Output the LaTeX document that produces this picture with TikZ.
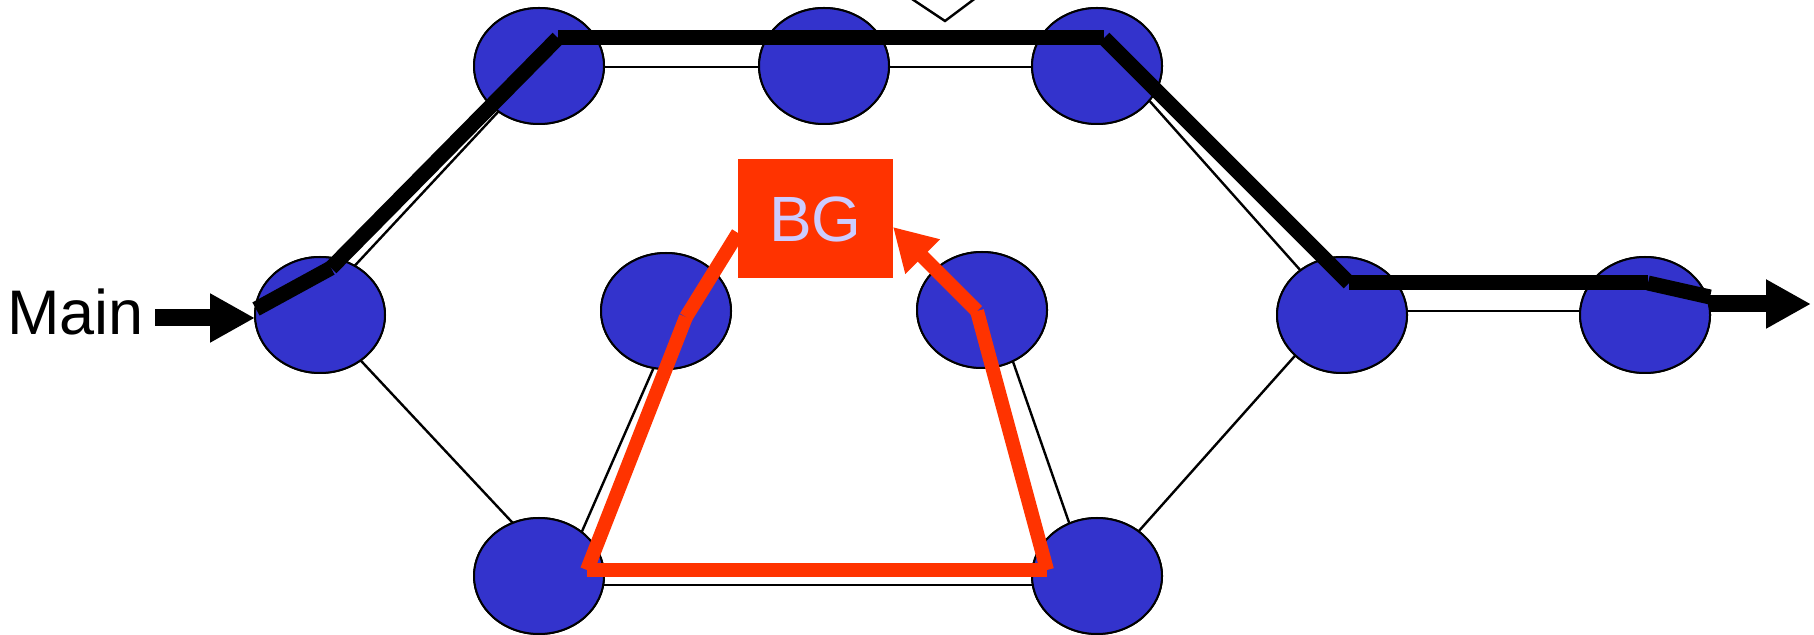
\documentclass[tikz,border=0pt]{standalone}
\usepackage{fontspec}
\newfontfamily\arial{Liberation Sans}
\usetikzlibrary{shapes.geometric,arrows.meta,calc}
\definecolor{nodeblue}{HTML}{3333CC}
\definecolor{bgred}{HTML}{FF3300}
\definecolor{bgtext}{HTML}{CCCCFF}
\tikzset{
  router/.style={ellipse, draw=black, line width=1pt, fill=nodeblue,
    minimum width=65pt, minimum height=58pt, inner sep=0pt},
  link/.style={draw=black, line width=1.2pt},
  route/.style={draw=black, line width=7.5pt, line cap=butt},
  backup/.style={draw=bgred, line width=7pt, line cap=butt},
  bigarrow/.style={draw=black, line width=8.5pt,
    -{Triangle[length=22.5pt,width=23pt]}},
}
\begin{document}
\begin{tikzpicture}[x=0.5pt,y=-0.5pt]
\useasboundingbox (0,0) rectangle (1814,635);
\clip (0,0) rectangle (1814,635);

% partly visible outline at the top edge
\draw[link] (900,-9) -- (945,21) -- (985,-9);

% network nodes
\path (320,315)  node[router] (n1) {}
      (539,66)   node[router] (n2) {}
      (824,66)   node[router] (n3) {}
      (1097,66)  node[router] (n4) {}
      (666,311)  node[router] (n5) {}
      (982,310)  node[router] (n6) {}
      (539,576)  node[router] (n7) {}
      (1097,576) node[router] (n8) {}
      (1342,315) node[router] (n9) {}
      (1645,315) node[router] (n10) {};

% links between nodes
\draw[link] ($(n1)+(0,-12)$) -- ($(n2)+(0,2)$);
\draw[link] ($(n1)+(0,2)$) -- ($(n7)+(0,-25)$);
\draw[link] ($(n2)+(0,1)$) -- ($(n3)+(0,1)$);
\draw[link] ($(n3)+(0,1)$) -- ($(n4)+(0,1)$);
\draw[link] ($(n4)+(0,-24)$) -- ($(n9)+(0,2)$);
\draw[link] ($(n9)+(0,-4)$) -- ($(n10)+(0,-4)$);
\draw[link] ($(n7)+(0,9)$) -- ($(n8)+(0,9)$);
\draw[link] ($(n7)+(23,1)$) -- ($(n5)+(13,-1)$);
\draw[link] ($(n6)+(13,0)$) -- ($(n8)+(-9,1)$);
\draw[link] ($(n8)+(0,2)$) -- ($(n9)+(0,-12)$);

% redraw nodes on top of the links
\foreach \p in {n1,n2,n3,n4,n5,n6,n7,n8,n9,n10}
  \node[router] at (\p) {};

% main route
\coordinate (r0) at (256,309);
\coordinate (r1) at (331,268);
\coordinate (r2) at (558,38);
\coordinate (r3) at (1104,38);
\coordinate (r4) at (1349,283);
\coordinate (r5) at (1648,283);
\coordinate (r6) at (1710,297);
\draw[route] (r0) -- (r1);
\draw[route] (r1) -- (r2);
\draw[route] (r2) -- (r3);
\draw[route] (r3) -- (r4);
\draw[route] (r4) -- (r5);
\draw[route] (r5) -- (r6);

% backup route
\coordinate (b0) at (738,233);
\coordinate (b1) at (686,317);
\coordinate (b2) at (587,570);
\coordinate (b3) at (1047,570);
\coordinate (b4) at (977,311);
\coordinate (b5) at (893,227);
\draw[backup] (b0) -- (b1);
\draw[backup] (b1) -- (b2);
\draw[backup] (b2) -- (b3);
\draw[backup] (b3) -- (b4);
\draw[backup, -{Triangle[length=21pt,width=23pt]}] (b4) -- (b5);

% backup gateway box
\node[fill=bgred, minimum width=77.5pt, minimum height=59.5pt, inner sep=0pt,
      text=bgtext, font=\arial\fontsize{32}{36}\selectfont] (bg) at (815.5,219) {BG};

% entry and exit
\node[anchor=base west, inner sep=0pt, font=\arial\fontsize{31.5}{36}\selectfont]
  (main) at (7,335) {Main};
\coordinate (in0) at (155,318);
\coordinate (in1) at (255,318);
\draw[bigarrow] (in0) -- (in1);
\coordinate (out0) at (1709,304);
\coordinate (out1) at (1811,304);
\draw[bigarrow] (out0) -- (out1);
\end{tikzpicture}
\end{document}
